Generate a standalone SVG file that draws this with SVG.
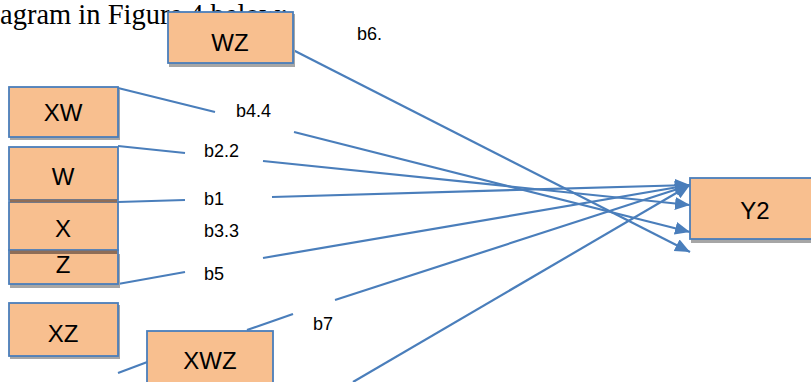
<svg xmlns="http://www.w3.org/2000/svg" width="811" height="382" viewBox="0 0 811 382">
<style>
.box{fill:#F8BF8F;stroke:#4A7EBB;stroke-width:1.8}
.shd{fill:#A6A6A6}
.band{fill:#8E6D57}
.lbl{font-family:"Liberation Sans",Arial,sans-serif;font-size:24px;fill:#000;text-anchor:middle}
.coef{font-family:"Liberation Sans",Arial,sans-serif;font-size:18px;fill:#000}
.ln{stroke:#4A7EBB;stroke-width:2.2;fill:none}
.hd{font-family:"Liberation Serif","Times New Roman",serif;font-size:28.5px;fill:#000}
</style>
<defs>
<marker id="ah" markerUnits="userSpaceOnUse" markerWidth="16" markerHeight="14" refX="15" refY="6.5" orient="auto">
<path d="M0,0 L15,6.5 L0,13 z" fill="#4A7EBB"/>
</marker>
</defs>
<text class="hd" x="0" y="24">agram in Figure 4 below:</text>
<g id="connectors">
<line class="ln" x1="293" y1="50" x2="690" y2="252" marker-end="url(#ah)"/>
<line class="ln" x1="118" y1="88" x2="215" y2="112"/>
<line class="ln" x1="294" y1="132" x2="690" y2="232" marker-end="url(#ah)"/>
<line class="ln" x1="118" y1="146" x2="185" y2="153"/>
<line class="ln" x1="263" y1="161" x2="690" y2="205" marker-end="url(#ah)"/>
<line class="ln" x1="118" y1="202" x2="185" y2="200"/>
<line class="ln" x1="272" y1="197" x2="690" y2="185" marker-end="url(#ah)"/>
<line class="ln" x1="118" y1="284" x2="185" y2="272"/>
<line class="ln" x1="263" y1="258" x2="690" y2="185" marker-end="url(#ah)"/>
<line class="ln" x1="247" y1="330" x2="293" y2="314"/>
<line class="ln" x1="335" y1="300" x2="690" y2="185" marker-end="url(#ah)"/>
<line class="ln" x1="118" y1="373" x2="150" y2="361"/>
<line class="ln" x1="353" y1="382" x2="690" y2="185" marker-end="url(#ah)"/>
</g>
<g id="node-WZ">
<rect class="shd" x="169" y="14" width="126" height="53"/>
<rect class="box" x="168" y="12" width="125" height="51"/>
<text class="lbl" x="230" y="51">WZ</text>
</g>
<g id="node-XW">
<rect class="shd" x="10" y="89" width="110" height="51"/>
<rect class="box" x="9" y="87" width="109" height="50"/>
<text class="lbl" x="63" y="121">XW</text>
</g>
<g id="node-Z">
<rect class="shd" x="10" y="254" width="110" height="34"/>
<rect class="box" x="9" y="250" width="109" height="34"/>
<text class="lbl" x="63" y="273">Z</text>
</g>
<g id="node-X">
<rect class="box" x="9" y="202" width="109" height="48"/>
<rect class="band" x="10" y="250.5" width="107" height="3.5"/>
<text class="lbl" x="63" y="237">X</text>
</g>
<g id="node-W">
<rect class="box" x="9" y="147" width="109" height="53"/>
<rect class="band" x="10" y="199.5" width="107" height="3"/>
<text class="lbl" x="63" y="185">W</text>
</g>
<g id="node-XZ">
<rect class="shd" x="10" y="305" width="110" height="54"/>
<rect class="box" x="9" y="303" width="109" height="53"/>
<text class="lbl" x="63" y="342">XZ</text>
</g>
<g id="node-XWZ">
<rect class="box" x="147" y="331" width="126" height="60"/>
<text class="lbl" x="210" y="369">XWZ</text>
</g>
<g id="node-Y2">
<rect class="shd" x="691" y="180" width="130" height="63"/>
<rect class="box" x="690" y="178" width="130" height="61"/>
<text class="lbl" x="755" y="219">Y2</text>
</g>
<g id="labels">
<text class="coef" x="357" y="40">b6.</text>
<text class="coef" x="236" y="117">b4.4</text>
<text class="coef" x="204" y="157">b2.2</text>
<text class="coef" x="204" y="205">b1</text>
<text class="coef" x="204" y="237">b3.3</text>
<text class="coef" x="204" y="280">b5</text>
<text class="coef" x="313" y="330">b7</text>
</g>
</svg>
